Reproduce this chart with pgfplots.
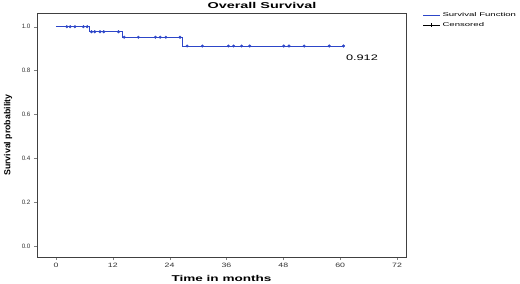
\documentclass[border=0pt]{standalone}
\usepackage{graphicx}
\usepackage{fontspec}
\setmainfont{Liberation Sans}
\usepackage{pgfplots}
\pgfplotsset{compat=1.18}
\definecolor{kmblue}{RGB}{45,70,200}
\newcommand\wide[2]{\scalebox{#1}[1]{#2}}
\begin{document}
\begin{tikzpicture}[x=1bp,y=1bp]
\useasboundingbox (-37,-26) rectangle (483,257);
\begin{axis}[at={(0,0)}, anchor=south west, scale only axis,
  width=369bp, height=244bp,
  xmin=-4, xmax=73.9, ymin=-0.05, ymax=1.0625,
  xtick={0,12,24,36,48,60,72}, ytick={0,0.2,0.4,0.6,0.8,1.0},
  yticklabel style={/pgf/number format/.cd, fixed, fixed zerofill, precision=1},
  /pgf/number format/assume math mode=true,
  xticklabel={\wide{1.4}{\pgfmathprintnumber{\tick}}},
  tick align=outside, tick pos=left, major tick length=3bp,
  ticklabel style={font=\fontsize{6.3}{7}\selectfont, color=black!80},
  axis line style={line width=0.9pt, black!75},
  xlabel={\wide{1.6}{\textbf{Time in months}}},
  ylabel={\textbf{Survival probability}},
  xlabel style={font=\fontsize{8.5}{9}\selectfont, at={(axis description cs:0.5,-0.086)}, anchor=center},
  ylabel style={font=\fontsize{8.8}{9}\selectfont, at={(axis description cs:-0.0786,0.5)}, anchor=center},
  legend style={at={(rel axis cs:1.045,1.01)}, anchor=north west, draw=none, fill=none,
    font=\fontsize{5.5}{6.5}\selectfont, row sep=0.5pt, inner sep=0pt},
  legend cell align=left,
  clip=false,
]
\addplot[kmblue, const plot, line width=0.7pt] coordinates {
 (0,1) (7.0,0.977) (14.1,0.952) (26.7,0.912) (60.7,0.912)};
\addlegendentry{\wide{1.75}{Survival Function}}
\addlegendimage{black, mark=+, mark size=2}
\addlegendentry{\wide{1.75}{Censored}}
\addplot[kmblue, only marks, mark=*, mark size=1.3, forget plot] coordinates {
 (2.3,1) (3.0,1) (4.0,1) (5.8,1) (6.6,1)
 (7.5,0.977) (8.2,0.977) (9.3,0.977) (10.1,0.977) (13.2,0.977)
 (14.4,0.952) (17.4,0.952) (21.0,0.952) (22.0,0.952) (23.2,0.952) (26.2,0.952)
 (27.7,0.912) (30.9,0.912) (36.4,0.912) (37.5,0.912) (39.2,0.912) (40.9,0.912)
 (48.1,0.912) (49.2,0.912) (52.4,0.912) (57.7,0.912) (60.7,0.912)};
\node[font=\fontsize{8}{9}\selectfont] at (axis cs:64.6,0.857) {\wide{1.6}{0.912}};
\node[font=\bfseries\fontsize{8.5}{10}\selectfont, anchor=base] at (rel axis cs:0.61,1) [yshift=4bp] {\wide{1.7}{Overall Survival}};
\end{axis}
\end{tikzpicture}
\end{document}
